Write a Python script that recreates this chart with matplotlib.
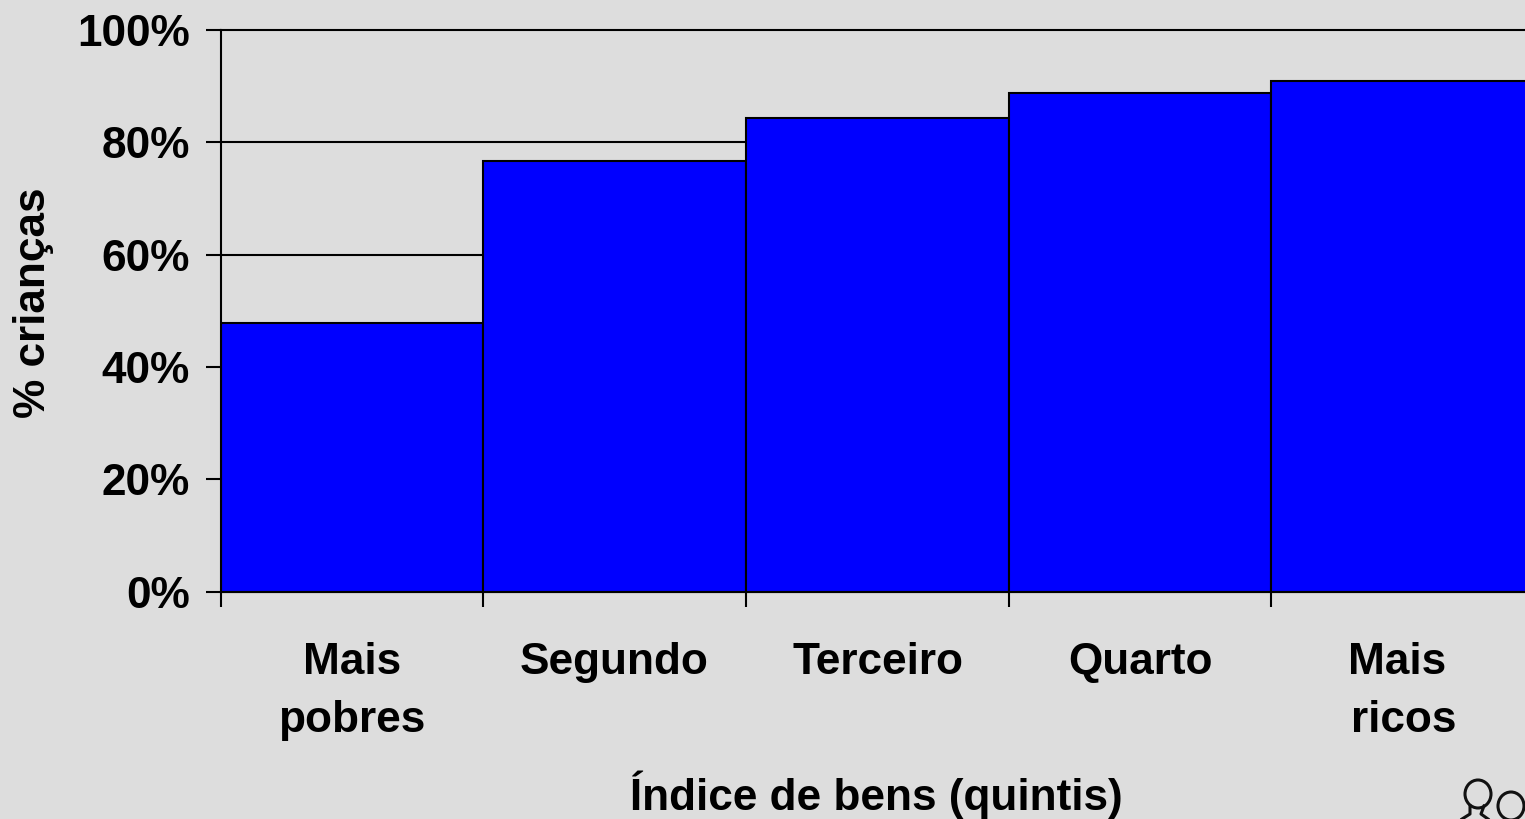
import matplotlib
matplotlib.use("Agg")
import matplotlib.pyplot as plt
from matplotlib.patches import Ellipse
from matplotlib.lines import Line2D
from matplotlib.transforms import Affine2D

categories = ["Mais\npobres", "Segundo", "Terceiro", "Quarto", "Mais\nricos"]
values = [47.8, 76.7, 84.4, 88.8, 91]
yticks = [0, 20, 40, 60, 80, 100]
ylabels = ["0%", "20%", "40%", "60%", "80%", "100%"]
xlabel = "Índice de bens (quintis)"
ylabel = "% crianças"

W, H = 1525, 819
bg = "#DDDDDD"
FS = 31.8
plt.rcParams["font.family"] = ["Liberation Sans", "DejaVu Sans"]
plt.rcParams["font.weight"] = "bold"
fig = plt.figure(figsize=(W/100, H/100), dpi=100, facecolor=bg)
L, R, T, B = 220.5, 1534, 30, 591.5
ax = fig.add_axes([L/W, 1-B/H, (R-L)/W, (B-T)/H], facecolor=bg)
ax.set_xlim(0, 5)
ax.set_ylim(0, 100)
ax.set_axisbelow(True)
ax.yaxis.grid(True, color="black", lw=1.5, clip_on=False)
ax.xaxis.grid(False)
ax.bar(range(5), values, width=1, align="edge", color="#0000FF", edgecolor="black", lw=1.5, zorder=3)
for s in ["top", "right"]:
    ax.spines[s].set_visible(False)
for s in ["left", "bottom"]:
    ax.spines[s].set_linewidth(1.5)
    ax.spines[s].set_zorder(4)
ax.set_yticks(yticks, ylabels, fontsize=FS, fontweight="bold")
ax.set_xticks(range(5), [""]*5)
ax.tick_params(axis="y", length=11, width=1.5, pad=11)
ax.tick_params(axis="x", length=10.5, width=1.5)

xpos = [352, 614, 878, 1141, 1404]
for px, c in zip(xpos, categories):
    for i, p in enumerate(c.split("\n")):
        x = px - 7 if (p == "Mais" and px > 400) else px
        fig.text(x/W, 1-(674+58*i)/H, p, ha="center", va="baseline", fontsize=FS, fontweight="bold")
fig.text(876.5/W, 1-810/H, xlabel, ha="center", va="baseline", fontsize=FS, fontweight="bold")
fig.text(34/W, 1-303/H, ylabel, ha="center", va="center", rotation=90, fontsize=FS, fontweight="bold")

# small balloon doodle, bottom right corner (pixel coordinates, y down)
px = Affine2D().scale(1, -1).translate(0, H)
for cx, cy, w, h in [(1478, 794, 26, 28), (1511, 806, 26, 28)]:
    fig.add_artist(Ellipse((cx, cy), w, h, fill=False, ec="#111111", lw=2.2, transform=px))
for xs, ys in [([1470, 1470, 1462], [806, 814, 819]), ([1484, 1481, 1488], [806, 814, 819])]:
    fig.add_artist(Line2D(xs, ys, color="#111111", lw=2.2, transform=px))
fig.savefig("out.png", dpi=100, facecolor=bg)
